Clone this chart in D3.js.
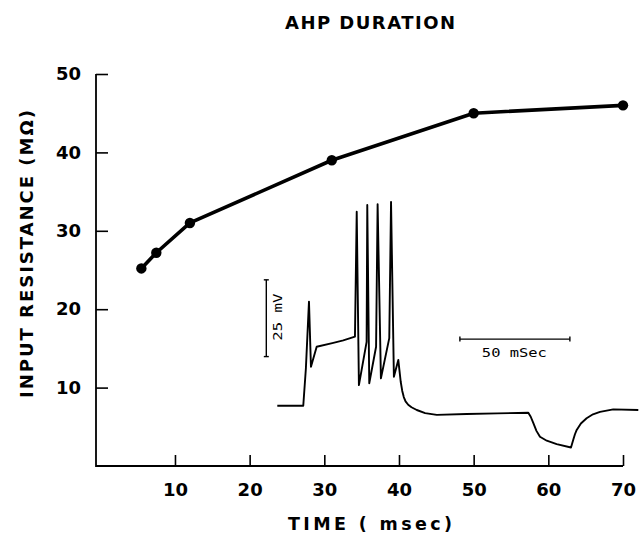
<!DOCTYPE html>
<html>
<head>
<meta charset="utf-8">
<script src="https://cdn.jsdelivr.net/npm/d3@7"></script>
<style>
  html, body { margin: 0; padding: 0; background: #fff; }
  svg { display: block; }
</style>
</head>
<body>
<svg id="chart" width="639" height="535"></svg>
<script>
// ---- Data ----
const times = [5.5, 7.5, 12, 31, 50, 70];          // msec
const resistance = [25.2, 27.2, 31, 39, 45, 46];   // MΩ
const xTicks = [10, 20, 30, 40, 50, 60, 70];
const yTicks = [10, 20, 30, 40, 50];

// Inset membrane-potential trace (ms, mV relative to rest)
const traceTime = [0, 11.8, 13.0, 14.4, 15.3, 17.9, 25, 30, 35.3,
  36.1, 37.1, 40.6, 40.9, 41.8, 44.9, 45.6, 47.1, 50.9, 51.7, 53.0,
  55.0, 56.1, 56.8, 57.5, 58.3, 59.5, 61.0, 63.4, 67.2, 72.5, 86.1, 100, 114.1,
  115.2, 116.4, 117.8, 119.4, 122.5, 127.0, 133.5, 134.5, 135.3, 136.1, 138.0,
  140.6, 143.5, 146.7, 152.7, 164.1];
const traceVoltage = [0, 0, 12.2, 33.9, 12.7, 19.2, 20.4, 21.3, 22.5,
  63.2, 6.7, 20.8, 65.4, 7.3, 19.2, 65.6, 8.9, 22.0, 66.4, 9.4,
  14.9, 7.8, 4.8, 2.8, 1.4, 0.3, -0.5, -1.4, -2.4, -3.0, -2.7, -2.5, -2.3,
  -3.6, -5.7, -8.2, -10.1, -11.4, -12.5, -13.6, -11.2, -9.3, -7.9, -5.8,
  -4.1, -2.8, -2.0, -1.2, -1.4];
// Scale bars
const mVBar = {t: -5, v0: 16, v1: 41, label: "25 mV"};
const msBar = {v: 21.7, t0: 83, t1: 133, label: "50 mSec"};

// ---- Layout ----
const svg = d3.select("#chart");
const x = d3.scaleLinear().domain([0, 70]).range([100.3, 623]);
const y = d3.scaleLinear().domain([0, 50]).range([466, 74]);
const xi = d3.scaleLinear().domain([0, 164.1]).range([277.3, 638.3]);
const yi = d3.scaleLinear().domain([0, 25]).range([405.7, 328.95]);

const boldFont = "DejaVu Sans, sans-serif";
const monoFont = "DejaVu Sans Mono, monospace";

// Axes
const yAxis = d3.axisLeft(y).tickValues(yTicks).tickSize(-12).tickSizeOuter(0).tickPadding(15);
const xAxis = d3.axisBottom(x).tickValues(xTicks).tickSize(-11).tickSizeOuter(0).tickPadding(17);

const gy = svg.append("g").attr("transform", "translate(96,0)").call(yAxis);
const gx = svg.append("g").attr("transform", `translate(0,${y(0)})`).call(xAxis);
[gx, gy].forEach(g => {
  g.select(".domain").remove();
  g.selectAll(".tick line").attr("stroke", "#000").attr("stroke-width", 1.6);
  g.selectAll(".tick text")
    .attr("fill", "#000")
    .style("font-family", boldFont)
    .style("font-weight", "bold")
    .style("font-size", "18px");
});

// axis frame lines
svg.append("path")
  .attr("d", `M96,${y(50)} V${y(0)} H${x(70)}`)
  .attr("fill", "none").attr("stroke", "#000").attr("stroke-width", 1.8);

// Data line & points
const line = d3.line().x((d, i) => x(times[i])).y(d => y(d));
svg.append("path")
  .datum(resistance)
  .attr("d", line)
  .attr("fill", "none").attr("stroke", "#000").attr("stroke-width", 3.6)
  .attr("stroke-linejoin", "round");
svg.selectAll("circle.pt")
  .data(resistance)
  .enter().append("circle")
  .attr("class", "pt")
  .attr("cx", (d, i) => x(times[i]))
  .attr("cy", d => y(d))
  .attr("r", 5.2)
  .attr("fill", "#000");

// Inset trace
const tline = d3.line()
  .x((d, i) => xi(traceTime[i])).y(d => yi(d));
svg.append("path")
  .datum(traceVoltage)
  .attr("d", tline)
  .attr("fill", "none").attr("stroke", "#000").attr("stroke-width", 1.9)
  .attr("stroke-linejoin", "round");

// Scale bars
const sb = svg.append("g").attr("stroke", "#000").attr("stroke-width", 1.4);
sb.append("line").attr("x1", xi(mVBar.t)).attr("x2", xi(mVBar.t))
  .attr("y1", yi(mVBar.v0)).attr("y2", yi(mVBar.v1));
[mVBar.v0, mVBar.v1].forEach(v => sb.append("line")
  .attr("x1", xi(mVBar.t) - 2.5).attr("x2", xi(mVBar.t) + 2.5)
  .attr("y1", yi(v)).attr("y2", yi(v)));
sb.append("line").attr("x1", xi(msBar.t0)).attr("x2", xi(msBar.t1))
  .attr("y1", yi(msBar.v)).attr("y2", yi(msBar.v));
[msBar.t0, msBar.t1].forEach(t => sb.append("line")
  .attr("x1", xi(t)).attr("x2", xi(t))
  .attr("y1", yi(msBar.v) - 2.5).attr("y2", yi(msBar.v) + 2.5));

svg.append("text")
  .attr("transform", `translate(282,${(yi(mVBar.v0) + yi(mVBar.v1)) / 2 - 1}) rotate(-90)`)
  .attr("text-anchor", "middle")
  .attr("textLength", 47).attr("lengthAdjust", "spacingAndGlyphs")
  .style("font-family", monoFont).style("font-size", "13px")
  .text(mVBar.label);
svg.append("text")
  .attr("x", (xi(msBar.t0) + xi(msBar.t1)) / 2 - 0.5)
  .attr("y", yi(msBar.v) + 17.5)
  .attr("text-anchor", "middle")
  .attr("textLength", 65).attr("lengthAdjust", "spacingAndGlyphs")
  .style("font-family", monoFont).style("font-size", "13px")
  .text(msBar.label);

// Titles
svg.append("text")
  .attr("x", 370).attr("y", 28.5)
  .attr("text-anchor", "middle")
  .attr("textLength", 170).attr("lengthAdjust", "spacing")
  .style("font-family", boldFont).style("font-weight", "bold").style("font-size", "18px")
  .text("AHP DURATION");
svg.append("text")
  .attr("x", 370).attr("y", 530)
  .attr("text-anchor", "middle")
  .attr("textLength", 164).attr("lengthAdjust", "spacing")
  .style("font-family", boldFont).style("font-weight", "bold").style("font-size", "17.5px")
  .text("TIME ( msec)");
svg.append("text")
  .attr("transform", "translate(33,254) rotate(-90)")
  .attr("text-anchor", "middle")
  .attr("textLength", 288).attr("lengthAdjust", "spacing")
  .style("font-family", boldFont).style("font-weight", "bold").style("font-size", "18px")
  .text("INPUT RESISTANCE (MΩ)");
</script>
</body>
</html>
